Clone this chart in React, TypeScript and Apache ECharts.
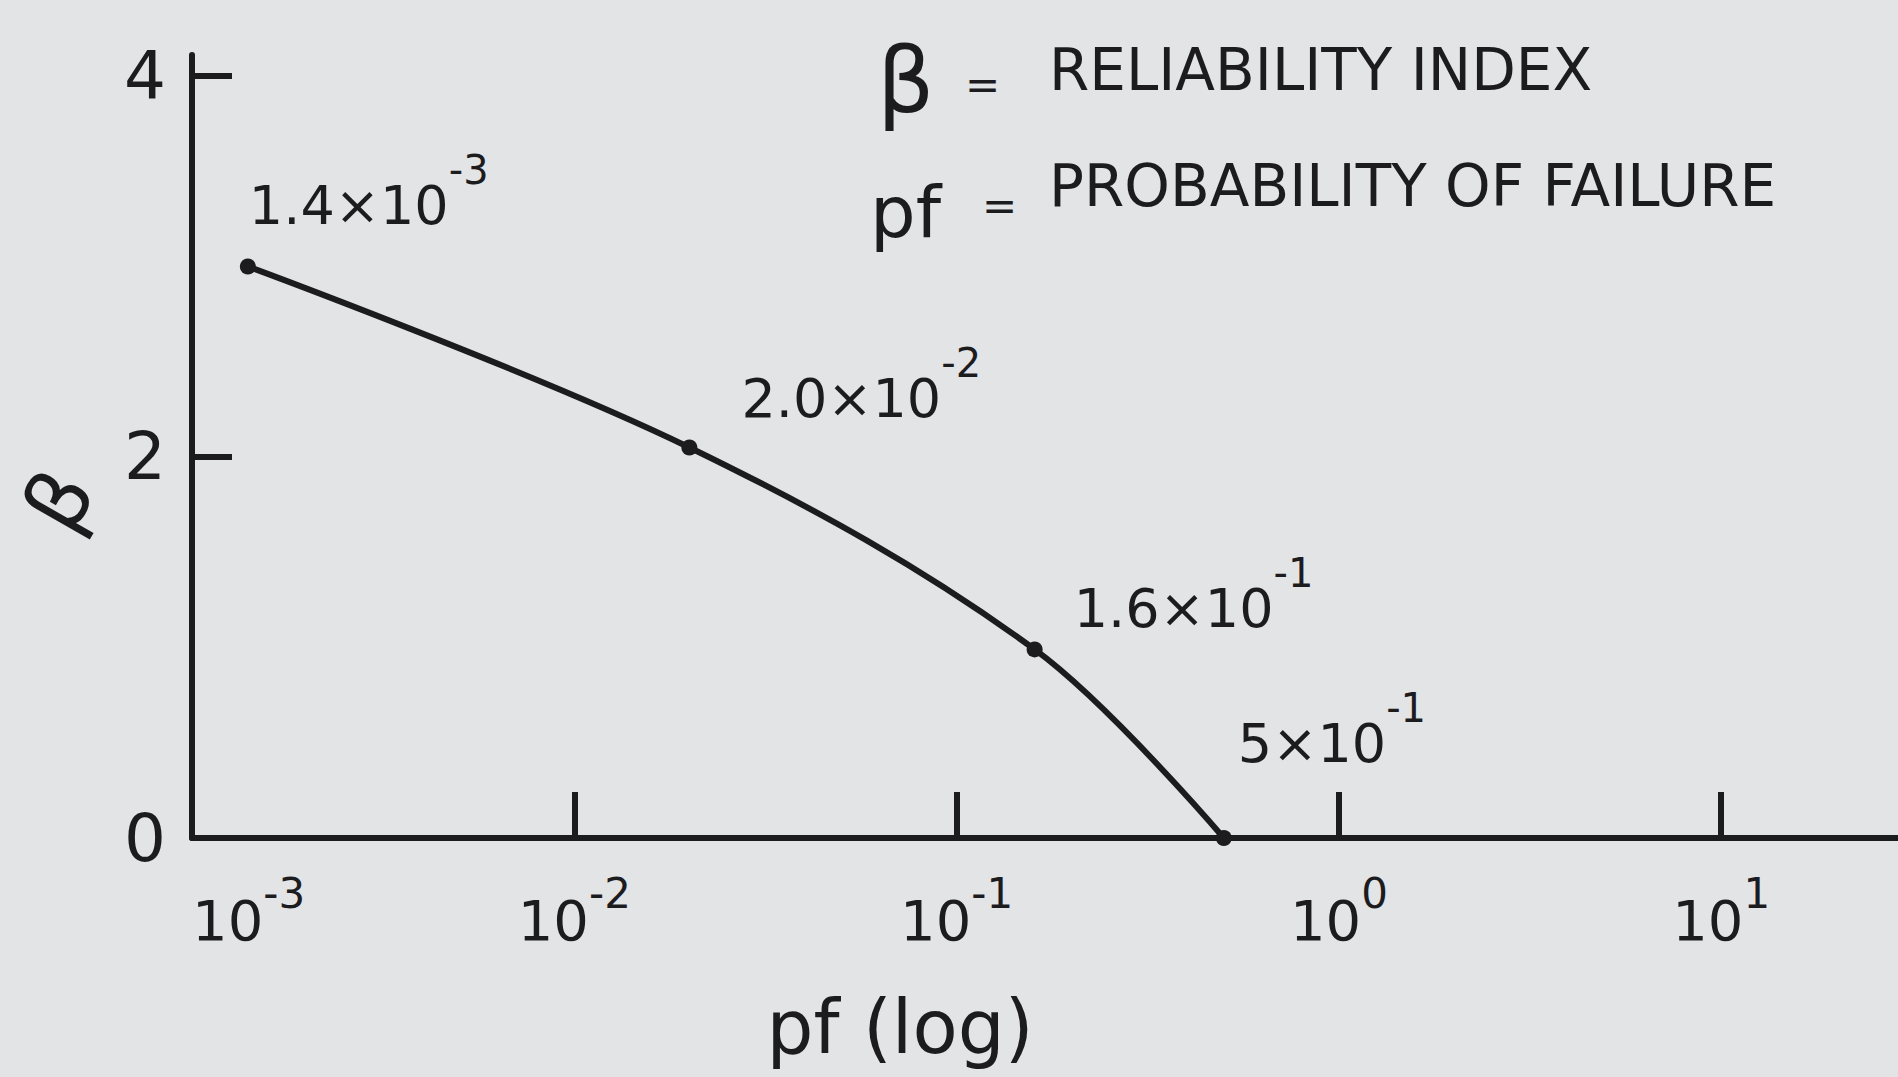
import { useEffect, useRef } from "react";
import * as echarts from "echarts";

// Probability of failure (x) and the matching reliability index β (y)
const pfValues = [1.4e-3, 2.0e-2, 1.6e-1, 5e-1];
const betaValues = [3.0, 2.05, 0.99, 0];

// Point annotations: mantissa part and exponent part
const pointMantissas = ["1.4×10", "2.0×10", "1.6×10", "5×10"];
const pointExponents = ["-3", "-2", "-1", "-1"];

// Axis extents and ticks
const pfMin = 1e-3;
const pfMax = 30.8;
const betaTicks = [0, 2, 4];
const betaTickMarks = [2, 4];
const betaMax = 4.11;

// Key text
const legendLines = [
  { symbol: "β", text: "RELIABILITY INDEX" },
  { symbol: "pf", text: "PROBABILITY OF FAILURE" },
];
const xAxisTitle = "pf (log)";
const yAxisTitle = "β";

export default function App() {
  const ref = useRef<HTMLDivElement>(null);

  useEffect(() => {
    if (!ref.current) return;
    const chart = echarts.init(ref.current, null, { renderer: "svg" });
    const ink = "#1c1c1e";
    const font = "DejaVu Sans";

    // label anchor offsets from each marker's box (left, middle of the text)
    const labelNudge: [number, number][] = [
      [9, -53],
      [60, -41],
      [47, -33],
      [22, -87],
    ];

    const data = pfValues.map((pf, i) => ({
      value: [pf, betaValues[i]],
      label: {
        show: true,
        position: labelNudge[i],
        formatter: `{m|${pointMantissas[i]}}{s|${pointExponents[i]}}`,
      },
    }));

    const expOf = (v: number) => {
      const e = Math.log10(v);
      const r = Math.round(e);
      return Math.abs(e - r) < 1e-6 ? r : null;
    };

    chart.setOption({
      animation: false,
      backgroundColor: "#e3e4e6",
      // the plot runs a little past the right edge so the axis line reaches it
      grid: {
        left: 192,
        width: 1716,
        top: 55,
        bottom: 239,
        containLabel: false,
        outerBoundsMode: "none",
      },
      xAxis: {
        type: "log",
        logBase: 10,
        min: pfMin,
        max: pfMax,
        name: xAxisTitle,
        nameLocation: "middle",
        nameGap: 152,
        nameTextStyle: {
          fontFamily: font,
          fontSize: 74,
          color: ink,
          padding: [0, 300, 0, 0],
        },
        axisLine: { show: true, onZero: false, lineStyle: { color: ink, width: 6 } },
        axisTick: { show: true, inside: true, length: 46, lineStyle: { color: ink, width: 6 } },
        minorTick: { show: false },
        splitLine: { show: false },
        axisLabel: {
          margin: 34,
          alignMinLabel: "left",
          color: ink,
          formatter: (v: number) => {
            const e = expOf(v);
            return e === null ? "" : `{b|10}{s|${e}}`;
          },
          rich: {
            b: { fontFamily: font, fontSize: 56, lineHeight: 76, verticalAlign: "bottom", color: ink },
            s: { fontFamily: font, fontSize: 42, lineHeight: 42, verticalAlign: "top", color: ink },
          },
        },
      },
      yAxis: {
        type: "value",
        min: 0,
        max: betaMax,
        interval: 2,
        axisLine: { show: true, onZero: false, lineStyle: { color: ink, width: 6 } },
        axisTick: {
          show: true,
          inside: true,
          length: 40,
          customValues: betaTickMarks,
          lineStyle: { color: ink, width: 6 },
        },
        splitLine: { show: false },
        axisLabel: {
          customValues: betaTicks,
          margin: 26,
          fontFamily: font,
          fontSize: 66,
          color: ink,
          padding: [0, 0, 38, 0],
          formatter: (v: number) => (betaTicks.includes(v) ? String(v) : ""),
        },
      },
      series: [
        {
          type: "line",
          data,
          smooth: 0.35,
          symbol: "circle",
          symbolSize: 16,
          itemStyle: { color: ink },
          lineStyle: { color: ink, width: 6 },
          label: {
            show: true,
            align: "left",
            verticalAlign: "middle",
            color: ink,
            rich: {
              m: { fontFamily: font, fontSize: 54, lineHeight: 110, color: ink },
              s: { fontFamily: font, fontSize: 40, lineHeight: 40, verticalAlign: "top", color: ink },
            },
          },
        },
      ],
      graphic: [
        {
          type: "text",
          x: 877,
          y: 80,
          style: { text: legendLines[0].symbol, fontFamily: font, fontSize: 90, fill: ink, align: "left", verticalAlign: "middle" },
        },
        {
          type: "text",
          x: 965,
          y: 84,
          style: { text: "=", fontFamily: font, fontSize: 42, fill: ink, align: "left", verticalAlign: "middle" },
        },
        {
          type: "text",
          x: 1049,
          y: 70,
          style: { text: legendLines[0].text, fontFamily: font, fontSize: 58, fill: ink, align: "left", verticalAlign: "middle" },
        },
        {
          type: "text",
          x: 870,
          y: 212,
          style: { text: legendLines[1].symbol, fontFamily: font, fontSize: 72, fill: ink, align: "left", verticalAlign: "middle" },
        },
        {
          type: "text",
          x: 982,
          y: 205,
          style: { text: "=", fontFamily: font, fontSize: 42, fill: ink, align: "left", verticalAlign: "middle" },
        },
        {
          type: "text",
          x: 1049,
          y: 186,
          style: { text: legendLines[1].text, fontFamily: font, fontSize: 58, fill: ink, align: "left", verticalAlign: "middle" },
        },
        {
          type: "text",
          x: 59,
          y: 500,
          rotation: 1.05,
          style: { text: yAxisTitle, fontFamily: font, fontSize: 84, fill: ink, align: "center", verticalAlign: "middle" },
        },
      ],
    });

    return () => chart.dispose();
  }, []);

  return (
    <div
      ref={ref}
      style={{ position: "fixed", left: 0, top: 0, width: 1898, height: 1077 }}
    />
  );
}
